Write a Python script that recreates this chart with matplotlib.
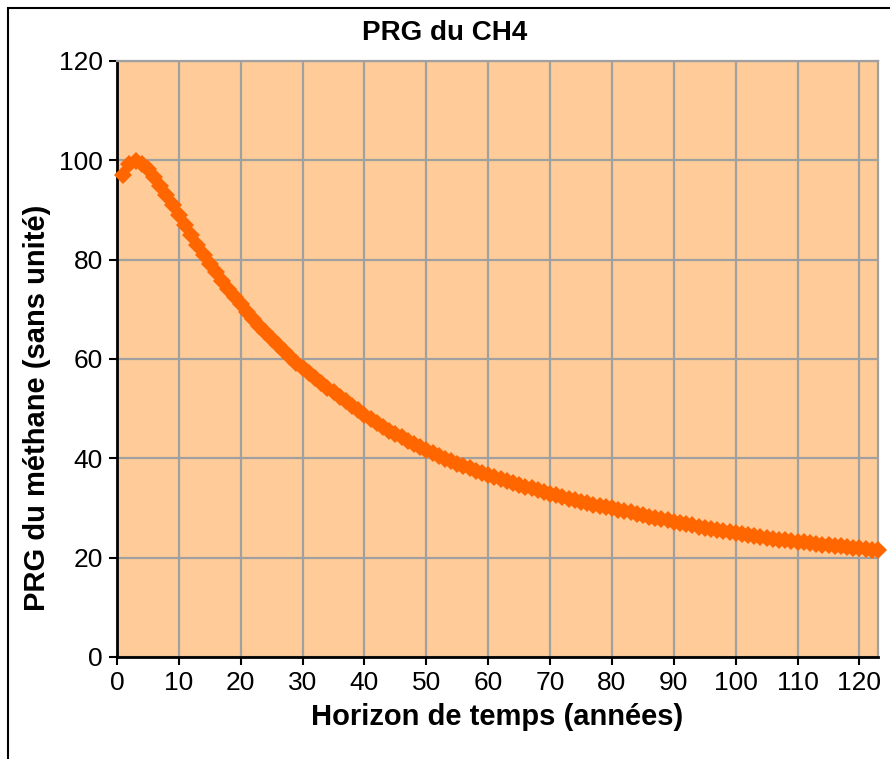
import matplotlib.pyplot as plt
from matplotlib.patches import Rectangle

# horizon (years) and methane GWP
horizon = list(range(1, 124))
prg = [
    97.0, 99.2, 99.9, 99.2, 98.2, 96.6, 94.8, 93.0, 91.0, 89.0,
    86.9, 84.9, 82.9, 81.0, 79.2, 77.5, 75.8, 74.1, 72.5, 71.0,
    69.5, 68.1, 66.7, 65.4, 64.1, 62.8, 61.6, 60.4, 59.2, 58.1,
    57.1, 56.1, 55.1, 54.2, 53.3, 52.4, 51.5, 50.6, 49.7, 48.8,
    48.0, 47.2, 46.4, 45.6, 44.9, 44.2, 43.5, 42.9, 42.2, 41.6,
    41.0, 40.5, 39.9, 39.4, 38.9, 38.4, 38.0, 37.5, 37.1, 36.6,
    36.2, 35.8, 35.4, 35.1, 34.7, 34.3, 34.0, 33.6, 33.3, 32.9,
    32.6, 32.3, 31.9, 31.6, 31.3, 31.0, 30.7, 30.5, 30.2, 29.9,
    29.6, 29.3, 29.1, 28.8, 28.5, 28.2, 28.0, 27.7, 27.5, 27.2,
    27.0, 26.7, 26.5, 26.2, 26.0, 25.8, 25.5, 25.3, 25.1, 24.9,
    24.7, 24.5, 24.3, 24.1, 23.9, 23.8, 23.6, 23.5, 23.3, 23.2,
    23.1, 22.9, 22.8, 22.6, 22.5, 22.4, 22.3, 22.1, 22.0, 21.9,
    21.8, 21.6, 21.5,
]
x_ticks = list(range(0, 121, 10))
y_ticks = list(range(0, 121, 20))

plt.rcParams['font.family'] = ['Liberation Sans', 'DejaVu Sans']

fig = plt.figure(figsize=(8.9, 7.59), dpi=100)
ax = fig.add_axes([117 / 890, 1 - 657 / 759, (878 - 117) / 890, (657 - 61) / 759])

# outer frame (only left/top visible in the reference)
fig.patches.append(Rectangle((8 / 890, -0.1), 1.2, 1 - 8 / 759 + 0.1,
                             transform=fig.transFigure, fill=False,
                             edgecolor='black', linewidth=1.5))

ax.set_facecolor('#FFCC99')
ax.plot(horizon, prg, linestyle='none', marker='D', markersize=9.5,
        color='#FF6600', markeredgewidth=0, clip_on=False, zorder=3)

ax.set_xlim(0, 123)
ax.set_ylim(0, 120)
ax.set_xticks(x_ticks)
ax.set_yticks(y_ticks)
ax.grid(color='#A0A0A0', linewidth=1.6)
ax.set_axisbelow(True)

for s in ['top', 'right']:
    ax.spines[s].set_color('#A0A0A0')
    ax.spines[s].set_linewidth(1.6)
for s in ['left', 'bottom']:
    ax.spines[s].set_color('black')
    ax.spines[s].set_linewidth(2)

ax.tick_params(direction='out', length=6, width=1.5, labelsize=19, pad=4)

# title and y label are centred on the chart area, not on the plot
fig.text(445 / 890, 1 - 33 / 759, 'PRG du CH4', fontsize=20, fontweight='bold',
         ha='center', va='center')
fig.text(37 / 890, 1 - 408 / 759, 'PRG du méthane (sans unité)', fontsize=21,
         fontweight='bold', rotation=90, ha='center', va='center')
ax.set_xlabel('Horizon de temps (années)', fontsize=21, fontweight='bold', labelpad=6)

fig.savefig('out.png', dpi=100)
